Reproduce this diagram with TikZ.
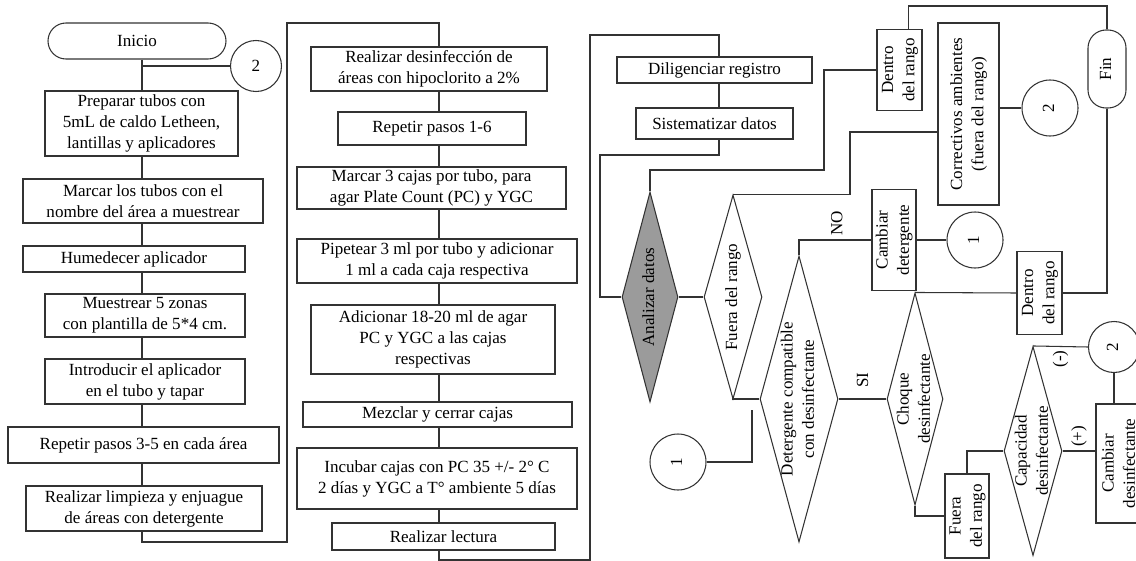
\documentclass[tikz,border=0pt]{standalone}
\usepackage{fontspec}
\setmainfont{Liberation Serif}
\usepackage{graphicx}
\usetikzlibrary{shapes.geometric}
\definecolor{linegray}{HTML}{333333}
\definecolor{shadegray}{HTML}{9B9B9B}
\newlength\px
\setlength\px{0.02cm}
\newcommand{\vtext}[1]{\smash{\makebox[0pt]{\raisebox{-.5\height}{\rotatebox{90}{\begin{tabular}{@{}c@{}}#1\end{tabular}}}}}}
\tikzset{
  base/.style={draw=linegray, line width=0.6pt, font=\fontsize{9.7}{12}\selectfont, align=center, inner sep=0pt},
  paso/.style 2 args={base, rectangle, minimum width=#1\px, minimum height=#2\px},
  term/.style 2 args={paso={#1}{#2}, rounded corners=18\px},
  decision/.style 2 args={base, diamond, aspect=0.27, minimum width=#1\px, minimum height=#2\px},
  conn/.style={base, circle, minimum size=#1\px},
  link/.style={draw=linegray, line width=0.6pt},
  lbl/.style={font=\fontsize{9.7}{12}\selectfont, rotate=90, inner sep=2pt}
}

\begin{document}
\begin{tikzpicture}[x=1\px, y=-1\px]
  \useasboundingbox (0,0) rectangle (1136,561);

  % first column
  \coordinate (col1) at (142,0);
  \node[term={178}{36}] (inicio) at (137,41) {Inicio};
  \node[conn=51] (c2a) at (256,66) {2};
  \node[paso={193}{65}] (p1) at (141.5,123.5) {Preparar tubos con\\5mL de caldo Letheen,\\lantillas y aplicadores};
  \node[paso={240}{44}] (p2) at (143,201) {Marcar los tubos con el\\nombre del área a muestrear};
  \node[paso={222}{26}] (p3) at (134,259) {Humedecer aplicador};
  \node[paso={200}{43}] (p4) at (145,315.5) {Muestrear 5 zonas\\con plantilla de 5*4 cm.};
  \node[paso={200}{45}] (p5) at (145,381.5) {Introducir el aplicador\\en el tubo y tapar};
  \node[paso={271}{36}] (p6) at (143.5,445) {Repetir pasos 3-5 en cada área};
  \node[paso={236}{45}] (p7) at (144,508.5) {Realizar limpieza y enjuague\\de áreas con detergente};

  \foreach \a/\b in {inicio/p1,p1/p2,p2/p3,p3/p4,p4/p5,p5/p6,p6/p7}
    \draw[link] (\a.south -| col1) -- (\b.north -| col1);
  \draw[link] (c2a.west) -- (c2a.west -| col1);

  % second column
  \coordinate (col2) at (439,0);
  \node[paso={236}{44}] (d1) at (429,69) {Realizar desinfección de\\áreas con hipoclorito a 2\%};
  \node[paso={188}{33}] (d2) at (432,128.5) {Repetir pasos 1-6};
  \node[paso={269}{42}] (d3) at (431.5,188) {Marcar 3 cajas por tubo, para\\agar Plate Count (PC) y YGC};
  \node[paso={280}{44}] (d4) at (437,261) {Pipetear 3 ml por tubo y adicionar\\1 ml a cada caja respectiva};
  \node[paso={244}{69}] (d5) at (433,339.5) {Adicionar 18-20 ml de agar\\PC y YGC a las cajas\\respectivas};
  \node[paso={269}{25}] (d6) at (437.5,414.5) {Mezclar y cerrar cajas};
  \node[paso={280}{61}] (d7) at (437,478.5) {Incubar cajas con PC 35 +/- 2° C\\2 días y YGC a T° ambiente 5 días};
  \node[paso={223}{27}] (d8) at (443.5,536.5) {Realizar lectura};

  \foreach \a/\b in {d1/d2,d2/d3,d3/d4,d4/d5,d5/d6,d6/d7,d7/d8}
    \draw[link] (\a.south -| col2) -- (\b.north -| col2);

  \coordinate (bus1a) at (287,542);
  \coordinate (bus1b) at (287,23);
  \draw[link] (p7.south -| col1) |- (bus1a) -- (bus1b) -| (d1.north -| col2);

  % third part: analysis
  \coordinate (col3) at (719,0);
  \node[paso={195}{26}] (r1) at (714.5,70) {Diligenciar registro};
  \node[paso={157}{31}] (r2) at (714.5,123.5) {Sistematizar datos};
  \draw[link] (r1.south -| col3) -- (r2.north -| col3);

  \coordinate (bus2a) at (590,560);
  \coordinate (bus2b) at (590,35);
  \draw[link] (d8.south -| col2) |- (bus2a) -- (bus2b) -| (r1.north -| col3);

  \node[decision={56}{210}, fill=shadegray] (analizar) at (650,297) {\vtext{Analizar datos}};
  \node[decision={58}{204}] (fuera1) at (733,297) {\vtext{Fuera del rango}};
  \node[decision={78}{286}] (detergente) at (799,399) {\vtext{Detergente compatible\\con desinfectante}};
  \node[decision={56}{212}] (choque) at (915,399) {\vtext{Choque\\desinfectante}};
  \node[decision={58}{209}] (capacidad) at (1033,451) {\vtext{Capacidad\\desinfectante}};

  \node[paso={45}{81}] (dentro1) at (899.5,70) {\vtext{Dentro\\del rango}};
  \node[term={38}{78}] (fin) at (1107,69) {\vtext{Fin}};
  \node[paso={61}{182}] (correctivos) at (968.5,114) {\vtext{Correctivos ambientes\\(fuera del rango)}};
  \node[conn=56] (c2b) at (1050,108) {\vtext{2}};
  \node[paso={44}{101}] (cambiar1) at (894,240) {\vtext{Cambiar\\detergente}};
  \node[conn=56] (c1a) at (975,240) {\vtext{1}};
  \node[conn=56] (c1b) at (678,462) {\vtext{1}};
  \node[paso={45}{83}] (dentro2) at (1039.5,293) {\vtext{Dentro\\del rango}};
  \node[paso={44}{84}] (fuera2) at (967,516) {\vtext{Fuera\\del rango}};
  \node[conn=51] (c2c) at (1114,347) {\vtext{2}};
  \node[paso={48}{119}] (cambiar2) at (1120,463.5) {\vtext{Cambiar\\desinfectante}};

  \coordinate (bus3) at (600,155);
  \coordinate (bus4) at (824,170);
  \coordinate (bus6) at (850,132);
  \coordinate (free1) at (752,410);

  \draw[link] (r2.south -| col3) |- (bus3) |- (analizar.west);
  \draw[link] (analizar.east) -- (fuera1.west);
  \draw[link] (analizar.north) |- (bus4) |- (dentro1.west);
  \draw[link] ([xshift=9\px]dentro1.north) -- ++(0,-23) -| (fin.north);
  \draw[link] (fin.south) |- (dentro2.east);
  \draw[link] (fuera1.north) -| (bus6) -- (bus6 -| correctivos.west);
  \draw[link] (correctivos.east |- c2b) -- (c2b.west);
  \draw[link] (fuera1.south) |- (detergente.west);
  \draw[link] (detergente.north) |- (cambiar1.west) node[lbl, pos=0.76, anchor=west] (lno) {NO};
  \draw[link] (cambiar1.east) -- (c1a.west);
  \draw[link] (c1b.east) -| (free1);
  \draw[link] (detergente.east) -- (choque.west) node[lbl, midway, anchor=west, inner sep=6pt] (lsi) {SI};
  \draw[link] (choque.north) -- (dentro2.west);
  \draw[link] (choque.south) |- (fuera2.west);
  \draw[link] (fuera2.north) |- (capacidad.west);
  \draw[link] (capacidad.north) -- (c2c.west) node[lbl, midway, anchor=east] (lminus) {(-)};
  \draw[link] (c2c.south) -- (c2c.south |- cambiar2.north);
  \draw[link] (capacidad.east) -- (capacidad.east -| cambiar2.west) node[lbl, midway, anchor=west] (lplus) {(+)};
\end{tikzpicture}
\end{document}
